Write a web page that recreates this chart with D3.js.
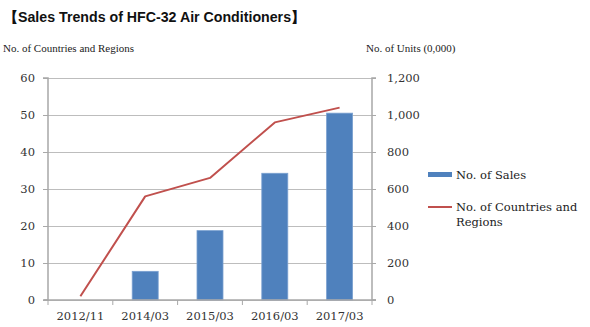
<!DOCTYPE html>
<html><head><meta charset="utf-8">
<script src="https://cdn.jsdelivr.net/npm/d3@7"></script>
<style>body{margin:0;background:#fff}svg{display:block}</style>
</head><body>
<script>
const categories = ["2012/11","2014/03","2015/03","2016/03","2017/03"];
const salesUnits = [null,155,375,685,1010];      // No. of Units (0,000)
const countries = [1,28,33,48,52];               // No. of Countries and Regions
const leftTicks = [0,10,20,30,40,50,60];
const rightTicks = [0,200,400,600,800,1000,1200];

const W=590,H=327;
const svg=d3.select("body").append("svg").attr("width",W).attr("height",H);
const serif="'DejaVu Serif', serif";
const times="'Liberation Serif', 'Times New Roman', serif";
const L=48,R=372,T=78,B=300;

const x=d3.scaleBand().domain(categories).range([L,R]).paddingInner(0).paddingOuter(0);
const yL=d3.scaleLinear().domain([0,60]).range([B,T]);
const yR=d3.scaleLinear().domain([0,1200]).range([B,T]);

svg.append("text").attr("x",4).attr("y",22).attr("font-family","'Liberation Sans', Arial, sans-serif")
 .attr("font-weight","bold").attr("font-size",14.2).attr("fill","#111").text("【Sales Trends of HFC-32 Air Conditioners】");
svg.append("text").attr("x",3).attr("y",52).attr("font-family",times).attr("font-size",11).attr("fill","#222").text("No. of Countries and Regions");
svg.append("text").attr("x",366).attr("y",52).attr("font-family",times).attr("font-size",11).attr("fill","#222").text("No. of Units (0,000)");

// gridlines
svg.append("g").selectAll("line").data(leftTicks).join("line")
 .attr("x1",L).attr("x2",R).attr("y1",d=>yL(d)+0.5).attr("y2",d=>yL(d)+0.5)
 .attr("stroke","#bdbdbd").attr("stroke-width",1);

// bars
const bw=26;
svg.append("g").selectAll("rect").data(categories.map((c,i)=>({c,v:salesUnits[i]})).filter(d=>d.v!=null)).join("rect")
 .attr("x",d=>x(d.c)+x.bandwidth()/2-bw/2).attr("width",bw)
 .attr("y",d=>yR(d.v)).attr("height",d=>B-yR(d.v))
 .attr("fill","#4F81BD").attr("stroke","#7aa0d0").attr("stroke-width",0.8);

// axes
const axisCol="#a8a8a8";
const gl=svg.append("g").attr("transform",`translate(${L},0)`).call(d3.axisLeft(yL).tickValues(leftTicks).tickSize(5).tickPadding(8));
const gr=svg.append("g").attr("transform",`translate(${R},0)`).call(d3.axisRight(yR).tickValues(rightTicks).tickSize(4).tickPadding(11).tickFormat(d3.format(",")));
const gb=svg.append("g").attr("transform",`translate(0,${B})`).call(d3.axisBottom(x).tickSize(0).tickPadding(12));
// boundary ticks on category axis
svg.append("g").selectAll("line").data(categories.concat(["_end"])).join("line")
 .attr("x1",(d,i)=>L+i*x.bandwidth()).attr("x2",(d,i)=>L+i*x.bandwidth())
 .attr("y1",B).attr("y2",B+5).attr("stroke",axisCol);
[gl,gr,gb].forEach(g=>{
  g.select(".domain").attr("stroke",axisCol).attr("stroke-width",1.5);
  g.selectAll(".tick line").attr("stroke",axisCol);
  g.selectAll("text").attr("font-family",serif).attr("font-size",11.5).attr("fill","#333");
});
gl.select(".domain").attr("d",`M-5,${T}H0V${B}H-5`);
gr.select(".domain").attr("d",`M4,${T}H0V${B}H4`);
gb.select(".domain").attr("d",`M${L-4},0H${R+4}`);

// line
const line=d3.line().x((d,i)=>x(categories[i])+x.bandwidth()/2).y(d=>yL(d));
svg.append("path").datum(countries).attr("d",line).attr("fill","none").attr("stroke","#C0504D").attr("stroke-width",2).attr("stroke-linejoin","round");

// legend
const lg=svg.append("g");
lg.append("rect").attr("x",428).attr("y",172).attr("width",24).attr("height",5).attr("fill","#4F81BD");
lg.append("text").attr("x",456).attr("y",179).attr("font-family",serif).attr("font-size",11.5).attr("fill","#222").text("No. of Sales");
lg.append("line").attr("x1",428).attr("x2",452).attr("y1",207).attr("y2",207).attr("stroke","#C0504D").attr("stroke-width",2);
const t2=lg.append("text").attr("font-family",serif).attr("font-size",11.5).attr("fill","#222");
t2.append("tspan").attr("x",456).attr("y",211).text("No. of Countries and");
t2.append("tspan").attr("x",456).attr("y",226).text("Regions");
</script>
</body></html>
